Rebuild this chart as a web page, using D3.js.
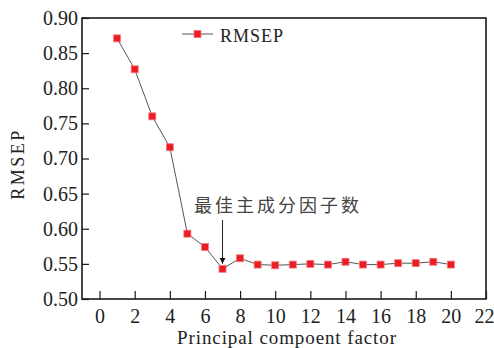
<!DOCTYPE html>
<html>
<head>
<meta charset="utf-8">
<script src="https://cdn.jsdelivr.net/npm/d3@7/dist/d3.min.js"></script>
</head>
<body style="margin:0;background:#fff">
<script>
// Number of principal components and the prediction error for each
const factors = [1, 2, 3, 4, 5, 6, 7, 8, 9, 10, 11, 12, 13, 14, 15, 16, 17, 18, 19, 20];
const rmsep = [0.871, 0.827, 0.760, 0.716, 0.593, 0.574, 0.543, 0.558, 0.549, 0.548,
               0.549, 0.550, 0.549, 0.553, 0.549, 0.549, 0.551, 0.551, 0.553, 0.549];
const xTicks = [0, 2, 4, 6, 8, 10, 12, 14, 16, 18, 20, 22];
const yTicks = [0.50, 0.55, 0.60, 0.65, 0.70, 0.75, 0.80, 0.85, 0.90];
const bestFactor = 7;
const seriesName = "RMSEP";
const xTitle = "Principal compoent factor";
const yTitle = "RMSEP";
const bestLabel = "最佳主成分因子数";

const W = 494, H = 348;
const plotL = 82, plotR = 486, plotT = 18, plotB = 299;
const SERIF = '"Liberation Serif", Tinos, "Times New Roman", serif';
const CJK = '"Noto Sans CJK SC", sans-serif';

const svg = d3.select("body").append("svg")
  .attr("width", W).attr("height", H)
  .style("display", "block");

const x = d3.scaleLinear().domain([-1, 22]).range([plotL, plotR]);
const y = d3.scaleLinear().domain([0.50, 0.90]).range([plotB, plotT]);

// frame
svg.append("rect")
  .attr("x", plotL).attr("y", plotT)
  .attr("width", plotR - plotL).attr("height", plotB - plotT)
  .attr("fill", "none").attr("stroke", "#1a1a1a").attr("stroke-width", 1.6);

// axes with inward ticks
const xAxis = d3.axisBottom(x).tickValues(xTicks).tickFormat(d3.format("d"))
  .tickSizeInner(-8).tickSizeOuter(0).tickPadding(10);
const gx = svg.append("g").attr("transform", `translate(0,${plotB})`).call(xAxis);
gx.attr("font-family", null).attr("font-size", null);
gx.select(".domain").remove();
gx.selectAll(".tick line").attr("stroke", "#1a1a1a").attr("stroke-width", 1.2);
gx.selectAll(".tick text")
  .style("font-family", SERIF).style("font-size", "20px").attr("fill", "#222")
  .attr("dx", d => d === 22 ? -2 : 0);

const yAxis = d3.axisLeft(y).tickValues(yTicks).tickFormat(d3.format(".2f"))
  .tickSizeInner(-7).tickSizeOuter(0).tickPadding(4);
const gy = svg.append("g").attr("transform", `translate(${plotL},0)`).call(yAxis);
gy.attr("font-family", null).attr("font-size", null);
gy.select(".domain").remove();
gy.selectAll(".tick line").attr("stroke", "#1a1a1a").attr("stroke-width", 1.2);
gy.selectAll(".tick text")
  .style("font-family", SERIF).style("font-size", "20px").attr("fill", "#222");

// axis titles
svg.append("text")
  .attr("x", (plotL + plotR) / 2 + 3).attr("y", 344)
  .attr("text-anchor", "middle")
  .style("font-family", SERIF).style("font-size", "19px").style("letter-spacing", "0.9px")
  .attr("fill", "#222").text(xTitle);

svg.append("text")
  .attr("transform", `translate(24,164) rotate(-90)`)
  .attr("text-anchor", "middle")
  .style("font-family", SERIF).style("font-size", "18px").style("letter-spacing", "2.5px")
  .attr("fill", "#222").text(yTitle);

// series line
const line = d3.line().x((d, i) => x(factors[i])).y(d => y(d));
svg.append("path").datum(rmsep)
  .attr("d", line).attr("fill", "none")
  .attr("stroke", "#555").attr("stroke-width", 1);

// square markers
const ms = 7;
svg.append("g").selectAll("rect").data(rmsep).join("rect")
  .attr("x", (d, i) => x(factors[i]) - ms / 2)
  .attr("y", d => y(d) - ms / 2)
  .attr("width", ms).attr("height", ms)
  .attr("fill", "#ec1c24").attr("stroke", "#f47a80").attr("stroke-width", 0.8);

// legend
const lg = svg.append("g").attr("transform", "translate(182,34)");
lg.append("line").attr("x1", 0).attr("x2", 31).attr("y1", 0).attr("y2", 0)
  .attr("stroke", "#555").attr("stroke-width", 1);
lg.append("rect").attr("x", 15.5 - ms / 2).attr("y", -ms / 2)
  .attr("width", ms).attr("height", ms)
  .attr("fill", "#ec1c24").attr("stroke", "#f47a80").attr("stroke-width", 0.8);
lg.append("text").attr("x", 38).attr("y", 8)
  .style("font-family", SERIF).style("font-size", "18px").style("letter-spacing", "1px")
  .attr("fill", "#222").text(seriesName);

// annotation for the optimal number of factors
const bestVal = rmsep[factors.indexOf(bestFactor)];
svg.append("defs").append("marker")
  .attr("id", "arrowhead").attr("viewBox", "0 0 10 10")
  .attr("refX", 10).attr("refY", 5)
  .attr("markerWidth", 6).attr("markerHeight", 8)
  .attr("markerUnits", "userSpaceOnUse")
  .attr("orient", "auto")
  .append("path").attr("d", "M0,0 L10,5 L0,10 Z").attr("fill", "#111");
svg.append("line")
  .attr("x1", x(bestFactor)).attr("x2", x(bestFactor))
  .attr("y1", 220).attr("y2", y(bestVal) - 5)
  .attr("stroke", "#222").attr("stroke-width", 1)
  .attr("marker-end", "url(#arrowhead)");
svg.append("text")
  .attr("x", 194).attr("y", 212)
  .style("font-family", CJK).style("font-size", "18px").style("letter-spacing", "3px")
  .attr("fill", "#444").text(bestLabel);
</script>
</body>
</html>
